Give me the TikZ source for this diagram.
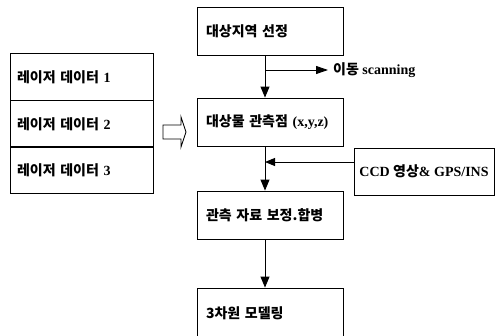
\documentclass[tikz,border=0pt]{standalone}
\usepackage{fontspec}
\setmainfont{Liberation Serif}
\newfontfamily\korfont{Noto Sans CJK KR}
\newcommand\kor[1]{{\korfont\bfseries #1}}
\usetikzlibrary{arrows.meta}
\tikzset{
  txt/.style={font=\bfseries\fontsize{14}{16}\selectfont},
  flowbox/.style={txt, draw, line width=0.9pt, minimum height=48pt, text width=128pt, inner xsep=9pt, align=left},
  laserbox/.style={txt, draw, line width=0.9pt, minimum height=46.7pt, text width=129pt, inner xsep=7pt, align=left},
  ccdbox/.style={txt, draw, line width=0.9pt, minimum height=47pt, minimum width=140pt, inner xsep=2pt, align=center},
  flow/.style={line width=0.9pt, -{Triangle[length=11pt,width=9pt]}},
  hollow/.style={draw, line width=0.9pt, fill=white}
}
\begin{document}
\begin{tikzpicture}[x=1pt,y=-1pt]
\useasboundingbox (0,0) rectangle (495,335);
\clip (0,0) rectangle (495,335);
% main flow boxes
\node[flowbox] (b1) at (270,31) {\kor{대상지역 선정}};
\node[flowbox] (b2) at (270,122) {\kor{대상물 관측점} (x,y,z)};
\node[flowbox] (b3) at (270,215) {\kor{관측 자료 보정.합병}};
\node[flowbox, minimum height=50pt] (b4) at (270,313) {\kor{3차원 모델링}};
% laser data stack
\node[laserbox] (l1) at (81.5,77) {\kor{레이저 데이터} 1};
\node[laserbox] (l2) at (81.5,124) {\kor{레이저 데이터} 2};
\node[laserbox] (l3) at (81.5,170) {\kor{레이저 데이터} 3};
% CCD box
\node[ccdbox] (ccd) at (424,171.5) {CCD \kor{영상}\& GPS/INS};
% connectors
\coordinate (x1) at (265,0);
\draw[flow] (b1.south -| x1) -- (b2.north -| x1);
\draw[flow] (b2.south -| x1) -- (b3.north -| x1);
\draw[flow] (b3.south -| x1) -- (b4.north -| x1);
\coordinate (br) at (265,70);
\coordinate (brend) at (328,70);
\draw[flow, -{Triangle[length=12pt,width=8pt]}] (br) -- (brend);
\node[txt, anchor=west, inner sep=0pt] (scan) at (333,70) {\kor{이동} scanning};
\coordinate (cin) at (265,162);
\draw[flow, -{Triangle[length=10pt,width=8pt]}] (ccd.west |- cin) -- (cin);
% hollow arrow
\draw[hollow] (163,125) -- (181,125) -- (181,117) -- (186,132) -- (181,147) -- (181,139) -- (163,139) -- cycle;
\end{tikzpicture}
\end{document}
